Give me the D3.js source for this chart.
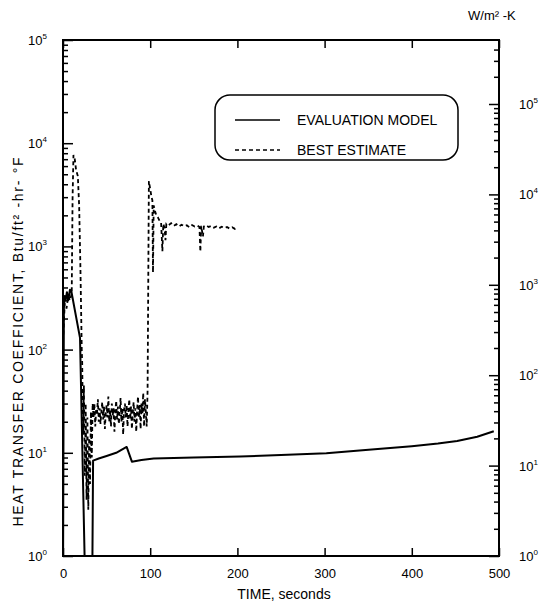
<!DOCTYPE html>
<html>
<head>
<meta charset="utf-8">
<script src="https://cdn.jsdelivr.net/npm/d3@7"></script>
<style>
body { margin: 0; background: #fff; }
svg { display: block; font-family: "Liberation Sans", Arial, sans-serif; }
</style>
</head>
<body>
<script>
// time axis ticks (seconds)
const timeTicks = [0, 100, 200, 300, 400, 500];
// decade ticks, Btu/ft2-hr-F (left) and W/m2-K (right)
const btuDecades = [1, 10, 100, 1e3, 1e4, 1e5];
const siDecades = [1, 10, 100, 1e3, 1e4, 1e5];

const seriesNames = ["EVALUATION MODEL", "BEST ESTIMATE"];

// evaluation model (solid)
const evalTime = [0, 1, 2, 3, 4.5, 6, 8, 9.5, 19.5, 25.5, 33.5, 34.5, 41, 50, 61, 73, 79, 90, 104,
    150, 203, 250, 302, 340, 361, 400, 430, 452, 475, 494];
const evalHtc = [0.5, 250, 330, 300, 360, 300, 380, 370, 130, 0.5, 0.5, 8.4, 8.8, 9.3, 10, 11.4, 8.2, 8.5, 8.8,
    9.0, 9.2, 9.5, 9.9, 10.5, 10.9, 11.6, 12.3, 13.0, 14.3, 16.2];

// best estimate (dashed)
const bestTime = [0, 2, 4, 6, 8, 10, 11, 12, 13.5, 15, 17, 18.5, 20, 21.5,
    22, 23, 24, 25, 26, 27, 28, 29, 30, 31, 32, 33, 34,
    35, 36, 37, 38, 39, 40, 41, 42, 43, 44, 45, 46, 47, 48, 49, 50, 51, 52, 53, 54,
    55, 56, 57, 58, 59, 60, 61, 62, 63, 64, 65, 66, 67, 68, 69, 70, 71, 72, 73, 74,
    75, 76, 77, 78, 79, 80, 81, 82, 83, 84, 85, 86, 87, 88, 89, 90, 91, 92, 93, 94, 95,
    96, 97, 98.5, 100, 101.5, 102.5, 103.2, 104, 105.5, 107, 109, 111, 112.5, 114, 115, 116.5, 117.5, 118.5,
    121, 124, 127, 130, 133, 136, 139, 142, 145, 148, 151, 154, 156.5, 157.5, 158.5, 160.5, 161.5,
    164, 167, 170, 173, 176, 179, 182, 185, 188, 191, 194, 197, 199];
const bestHtc = [120, 280, 250, 330, 300, 350, 3000, 7700, 7000, 5500, 4800, 2500, 600, 100,
    75, 15, 45, 6, 30, 3.5, 22, 2.8, 14, 5, 25, 9, 30,
    22, 30, 18, 26, 24, 33, 20, 27, 19, 25, 31, 21, 28, 17, 24, 29, 22, 35, 20, 26,
    18, 30, 23, 27, 16, 25, 32, 21, 28, 19, 24, 34, 20, 27, 15, 26, 30, 22, 29, 18,
    25, 33, 21, 28, 17, 24, 31, 20, 27, 16, 26, 35, 22, 29, 17, 30, 24, 38, 18, 33, 25,
    18, 40, 4300, 3600, 3000, 2800, 560, 2500, 2200, 2000, 1900, 1750, 1700, 900, 1650, 1500, 1150, 1650,
    1600, 1680, 1580, 1640, 1560, 1620, 1570, 1600, 1530, 1610, 1560, 1590, 1540, 890, 1580, 1250, 1560,
    1600, 1540, 1580, 1520, 1560, 1500, 1550, 1510, 1540, 1490, 1530, 1480, 1520];

window.onload = () => {

    const width = 540;
    const height = 605;
    const marginTop = 40;
    const marginRight = 41;
    const marginBottom = 49;
    const marginLeft = 63;

    const x = d3.scaleLinear()
        .domain([0, 500])
        .range([marginLeft, width - marginRight]);

    const y = d3.scaleLog()
        .domain([1, 1e5])
        .range([height - marginBottom, marginTop]);

    // right hand scale drawn as in the original figure
    const ySI = d3.scaleLog()
        .domain([1, 1e5])
        .range([height - marginBottom, 104]);

    const svg = d3.create("svg")
        .attr("width", width)
        .attr("height", height)
        .attr("viewBox", `0 0 ${width} ${height}`);

    svg.append("rect").attr("width", width).attr("height", height).attr("fill", "#fff");

    const minors = (decades, scale) => {
        const out = [];
        decades.forEach(d => {
            for (let m = 2; m <= 9; m++) {
                if (scale(d * m) >= marginTop + 1) out.push(d * m);
            }
        });
        return out;
    };

    const tidy = g => {
        g.select(".domain").remove();
        g.selectAll("line").attr("stroke", "#000").attr("stroke-width", 1.5);
    };

    // left axis ticks
    svg.append("g")
        .attr("transform", `translate(${marginLeft},0)`)
        .call(d3.axisLeft(y).tickValues(btuDecades).tickSize(-10).tickFormat(() => ""))
        .call(tidy);
    svg.append("g")
        .attr("transform", `translate(${marginLeft},0)`)
        .call(d3.axisLeft(y).tickValues(minors(btuDecades, y)).tickSize(-5).tickFormat(() => ""))
        .call(tidy);

    // right axis ticks
    svg.append("g")
        .attr("transform", `translate(${width - marginRight},0)`)
        .call(d3.axisRight(ySI).tickValues(siDecades).tickSize(-10).tickFormat(() => ""))
        .call(tidy);
    svg.append("g")
        .attr("transform", `translate(${width - marginRight},0)`)
        .call(d3.axisRight(ySI).tickValues(minors(siDecades, ySI)).tickSize(-5).tickFormat(() => ""))
        .call(tidy);

    // bottom + top ticks
    svg.append("g")
        .attr("transform", `translate(0,${height - marginBottom})`)
        .call(d3.axisBottom(x).tickValues(timeTicks).tickSize(-8).tickPadding(13))
        .call(tidy)
        .call(g => g.selectAll("text").attr("font-size", 13).attr("fill", "#000")
            .attr("font-family", "Liberation Sans, Arial, sans-serif"));
    svg.append("g")
        .attr("transform", `translate(0,${marginTop})`)
        .call(d3.axisTop(x).tickValues(timeTicks).tickSize(-8).tickFormat(() => ""))
        .call(tidy);

    // power-of-ten labels
    const powerLabel = (sel, exp) => {
        sel.append("tspan").text("10");
        sel.append("tspan").attr("dy", -6).attr("font-size", 8).text(exp);
    };

    btuDecades.forEach(v => {
        svg.append("text")
            .attr("x", 47)
            .attr("y", y(v) + 5)
            .attr("text-anchor", "end")
            .attr("font-size", 13)
            .call(powerLabel, Math.round(Math.log10(v)));
    });

    siDecades.forEach(v => {
        svg.append("text")
            .attr("x", 519)
            .attr("y", ySI(v) + 5)
            .attr("font-size", 13)
            .call(powerLabel, Math.round(Math.log10(v)));
    });

    // frame
    svg.append("rect")
        .attr("x", marginLeft)
        .attr("y", marginTop)
        .attr("width", width - marginLeft - marginRight)
        .attr("height", height - marginTop - marginBottom)
        .attr("fill", "none")
        .attr("stroke", "#000")
        .attr("stroke-width", 2);

    // axis titles
    svg.append("text")
        .attr("x", 284)
        .attr("y", 599)
        .attr("text-anchor", "middle")
        .attr("font-size", 14)
        .text("TIME, seconds");

    svg.append("text")
        .attr("transform", "translate(23,342) rotate(-90)")
        .attr("text-anchor", "middle")
        .attr("font-size", 14)
        .attr("fill", "#000")
        .attr("textLength", 369)
        .attr("lengthAdjust", "spacing")
        .text("HEAT TRANSFER COEFFICIENT, Btu/ft² -hr- °F");

    svg.append("text")
        .attr("x", 468)
        .attr("y", 20)
        .attr("font-size", 13)
        .text("W/m² -K");

    // curves
    svg.append("clipPath")
        .attr("id", "plot")
        .append("rect")
        .attr("x", marginLeft)
        .attr("y", marginTop)
        .attr("width", width - marginLeft - marginRight)
        .attr("height", height - marginTop - marginBottom);

    const line = d3.line()
        .x(d => x(d[0]))
        .y(d => y(d[1]));

    const curves = svg.append("g").attr("clip-path", "url(#plot)");

    curves.append("path")
        .datum(d3.zip(evalTime, evalHtc))
        .attr("d", line)
        .attr("fill", "none")
        .attr("stroke", "#000")
        .attr("stroke-width", 2)
        .attr("stroke-linejoin", "round");

    curves.append("path")
        .datum(d3.zip(bestTime, bestHtc))
        .attr("d", line)
        .attr("fill", "none")
        .attr("stroke", "#000")
        .attr("stroke-width", 1.8)
        .attr("stroke-dasharray", "4,3");

    // legend
    const legend = svg.append("g");

    legend.append("rect")
        .attr("x", 215)
        .attr("y", 95)
        .attr("width", 243)
        .attr("height", 65)
        .attr("rx", 15)
        .attr("fill", "#fff")
        .attr("stroke", "#000")
        .attr("stroke-width", 1.5);

    seriesNames.forEach((name, i) => {
        const ly = 120 + i * 30;
        legend.append("line")
            .attr("x1", 235)
            .attr("x2", 280)
            .attr("y1", ly)
            .attr("y2", ly)
            .attr("stroke", "#000")
            .attr("stroke-width", i === 0 ? 1.6 : 1.5)
            .attr("stroke-dasharray", i === 0 ? null : "4,3");
        legend.append("text")
            .attr("x", 297)
            .attr("y", ly + 5)
            .attr("font-size", 14)
            .text(name);
    });

    document.body.appendChild(svg.node());
};
</script>
</body>
</html>
